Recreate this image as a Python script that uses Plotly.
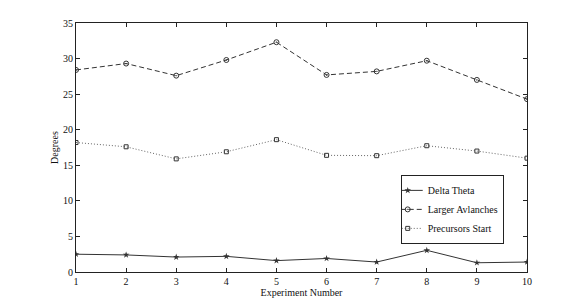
import plotly.graph_objects as go

experiments = [1, 2, 3, 4, 5, 6, 7, 8, 9, 10]
delta_theta = [2.5, 2.4, 2.1, 2.2, 1.6, 1.9, 1.4, 3.05, 1.3, 1.4]
larger_avalanches = [28.4, 29.3, 27.6, 29.8, 32.3, 27.7, 28.2, 29.7, 27.0, 24.3]
precursors_start = [18.2, 17.6, 15.9, 16.9, 18.6, 16.4, 16.35, 17.75, 17.0, 16.0]

y_ticks = [0, 5, 10, 15, 20, 25, 30, 35]

fig = go.Figure()
fig.add_trace(go.Scatter(
    x=experiments, y=delta_theta, name="Delta Theta", mode="lines+markers",
    line=dict(color="#333333", width=1, dash="solid"),
    marker=dict(symbol="star", size=5, color="#333333"),
))
fig.add_trace(go.Scatter(
    x=experiments, y=larger_avalanches, name="Larger Avlanches", mode="lines+markers",
    line=dict(color="#333333", width=1, dash="5px,3px"),
    marker=dict(symbol="circle-open-dot", size=5, color="#333333", line=dict(width=1)),
))
fig.add_trace(go.Scatter(
    x=experiments, y=precursors_start, name="Precursors Start", mode="lines+markers",
    line=dict(color="#666666", width=1, dash="1px,2px"),
    marker=dict(symbol="square-open", size=4, color="#333333", line=dict(width=1)),
))

axis_common = dict(
    showline=True, linecolor="#222222", linewidth=1, mirror="ticks",
    ticks="inside", ticklen=4, tickcolor="#222222", showgrid=False, zeroline=False,
    tickfont=dict(family="Liberation Serif", size=10, color="#111111"),
)

fig.update_layout(
    width=582, height=308,
    margin=dict(l=76, r=55, t=23, b=34),
    paper_bgcolor="white", plot_bgcolor="white",
    font=dict(family="Liberation Serif", size=10, color="#111111"),
    xaxis=dict(range=[1, 10], tickvals=experiments,
               title=dict(text="Experiment Number", standoff=2,
                          font=dict(family="Liberation Serif", size=10)),
               **axis_common),
    yaxis=dict(range=[0, 35], tickvals=y_ticks,
               title=dict(text="Degrees", standoff=2,
                          font=dict(family="Liberation Serif", size=10)),
               **axis_common),
    legend=dict(x=0.72, y=0.39, xanchor="left", yanchor="top",
                bgcolor="white", bordercolor="#222222", borderwidth=1,
                font=dict(family="Liberation Serif", size=10),
                itemwidth=30, tracegroupgap=0, indentation=-14),
    showlegend=True,
)

fig.write_html("out.html", config={"displayModeBar": False},
               post_script="document.body.style.margin='0';")
